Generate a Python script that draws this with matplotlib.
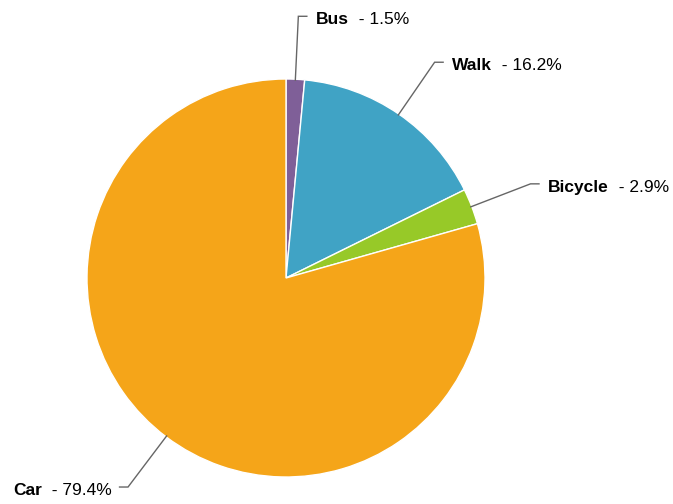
import numpy as np
import matplotlib
matplotlib.use("Agg")
import matplotlib.pyplot as plt

categories = ["Bus", "Walk", "Bicycle", "Car"]
values = [1.5, 16.2, 2.9, 79.4]
colors = ["#7f5f98", "#40a3c5", "#97c928", "#f5a519"]

W, H = 673, 504
fig = plt.figure(figsize=(W / 100, H / 100), dpi=100)
ax = fig.add_axes([0, 0, 1, 1])
ax.set_xlim(0, W)
ax.set_ylim(0, H)
ax.set_aspect("equal")
ax.axis("off")

cx, cy, R = 286, H - 278, 199
wedges, _ = ax.pie(values, colors=colors, startangle=90, counterclock=False,
                   center=(cx, cy), radius=R,
                   wedgeprops=dict(edgecolor="white", linewidth=1))
ax.set_xlim(0, W)
ax.set_ylim(0, H)

font = "Liberation Sans"
fs = 12.5
renderer = fig.canvas.get_renderer()
for w, name, v in zip(wedges, categories, values):
    mid = np.deg2rad((w.theta1 + w.theta2) / 2)
    p0 = (cx + (R - 1) * np.cos(mid), cy + (R - 1) * np.sin(mid))
    p1 = (cx + 262 * np.cos(mid), cy + 262 * np.sin(mid))
    right = np.cos(mid) >= 0
    sgn = 1 if right else -1
    p2 = (p1[0] + sgn * 8.5, p1[1])
    ax.plot([p0[0], p1[0], p2[0]], [p0[1], p1[1], p2[1]], color="#666666", lw=1,
            solid_joinstyle="miter")
    ty = p1[1] - 8
    rest = f"  - {v}%"
    if right:
        tx = p2[0] + 9
        t1 = ax.text(tx, ty, name, fontsize=fs, fontweight="bold", family=font,
                     ha="left", va="baseline", color="#000000")
        bb = t1.get_window_extent(renderer)
        ax.text(bb.x1, ty, rest, fontsize=fs, family=font, ha="left",
                va="baseline", color="#000000")
    else:
        tx = p2[0] - 8
        t2 = ax.text(tx, ty, rest, fontsize=fs, family=font, ha="right",
                     va="baseline", color="#000000")
        bb = t2.get_window_extent(renderer)
        ax.text(bb.x0, ty, name, fontsize=fs, fontweight="bold", family=font,
                ha="right", va="baseline", color="#000000")

fig.savefig("out.png", dpi=100)
